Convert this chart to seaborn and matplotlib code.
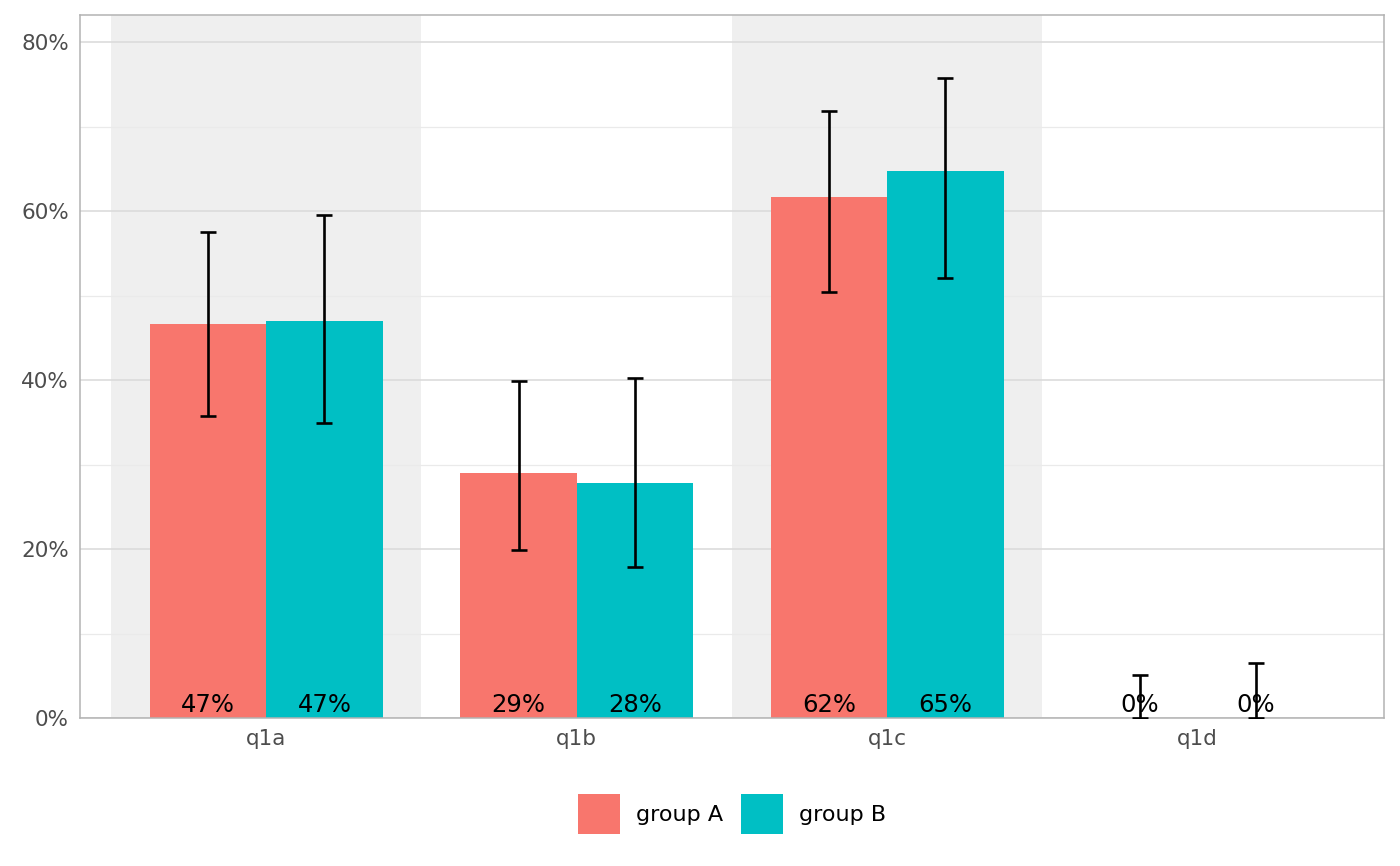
import pandas as pd
import numpy as np
import matplotlib
matplotlib.use("Agg")
import matplotlib.pyplot as plt
from matplotlib.patches import Patch
from matplotlib.ticker import PercentFormatter, MultipleLocator
import seaborn as sns

# datos (en %)
preguntas = ["q1a", "q1b", "q1c", "q1d"]
grupos = ["group A", "group B"]
valores_a = [46.6, 29.0, 61.7, 0.0]
valores_b = [47.0, 27.8, 64.7, 0.0]
bajo_a = [35.7, 19.9, 50.4, 0.0]
alto_a = [57.5, 39.9, 71.8, 5.1]
bajo_b = [34.9, 17.9, 52.1, 0.0]
alto_b = [59.5, 40.2, 75.7, 6.5]
colores = ["#F8766D", "#00BFC4"]

df = pd.DataFrame({
    "pregunta": preguntas * 2,
    "grupo": [grupos[0]] * 4 + [grupos[1]] * 4,
    "valor": valores_a + valores_b,
})
intervalos = {grupos[0]: (bajo_a, alto_a), grupos[1]: (bajo_b, alto_b)}

sns.set_theme(style="white")
plt.rcParams["font.family"] = ["DejaVu Sans"]

fig = plt.figure(figsize=(14, 8.66), dpi=100)
ax = fig.add_axes([0.0571, 0.1709, 0.9315, 0.8118])

# bandas grises alternas
for i in range(0, len(preguntas), 2):
    ax.axvspan(i - 0.5, i + 0.5, color="#EFEFEF", zorder=0, lw=0)

sns.barplot(data=df, x="pregunta", y="valor", hue="grupo", palette=colores,
            width=0.75, saturation=1, errorbar=None, legend=False, ax=ax,
            zorder=2, linewidth=0, edgecolor="none")

# barras de error y etiquetas
for cont, g in zip(ax.containers, grupos):
    bajo, alto = intervalos[g]
    xs = [b.get_x() + b.get_width() / 2 for b in cont]
    vals = [b.get_height() for b in cont]
    err = [np.array(vals) - np.array(bajo), np.array(alto) - np.array(vals)]
    ax.errorbar(xs, vals, yerr=err, fmt="none", ecolor="black", elinewidth=1.9,
                capsize=5.8, capthick=1.9, zorder=3)
    for x, v in zip(xs, vals):
        ax.annotate(f"{v:.0f}%", (x, 0), xytext=(0, 1), textcoords="offset points",
                    ha="center", va="bottom", fontsize=17.5, color="black", zorder=4)

ax.set_xlim(-0.6, 3.6)
ax.set_ylim(0, 83.2)
ax.yaxis.set_major_locator(MultipleLocator(20))
ax.yaxis.set_minor_locator(MultipleLocator(10))
ax.yaxis.set_major_formatter(PercentFormatter(100, decimals=0))
ax.set_axisbelow(True)
ax.grid(axis="y", which="major", color="#D9D9D9", lw=1.1, zorder=1)
ax.grid(axis="y", which="minor", color="#EAEAEA", lw=0.9, zorder=1)
ax.grid(axis="x", visible=False)
ax.set_xlabel("")
ax.set_ylabel("")
for s in ax.spines.values():
    s.set_color("#B3B3B3")
    s.set_linewidth(1.1)
ax.tick_params(axis="both", which="major", length=4, width=1, color="#B3B3B3",
               labelsize=15.5, labelcolor="#4D4D4D", pad=4)
ax.tick_params(axis="y", which="minor", length=0)

handles = [Patch(facecolor=c, edgecolor="none", label=g) for c, g in zip(colores, grupos)]
fig.legend(handles=handles, loc="center", bbox_to_anchor=(0.523, 0.06), ncol=2,
           frameon=False, fontsize=16, handlelength=1.87, handleheight=2.45,
           handletextpad=0.75, columnspacing=0.8, labelcolor="black")

fig.savefig("out.png", dpi=100)
